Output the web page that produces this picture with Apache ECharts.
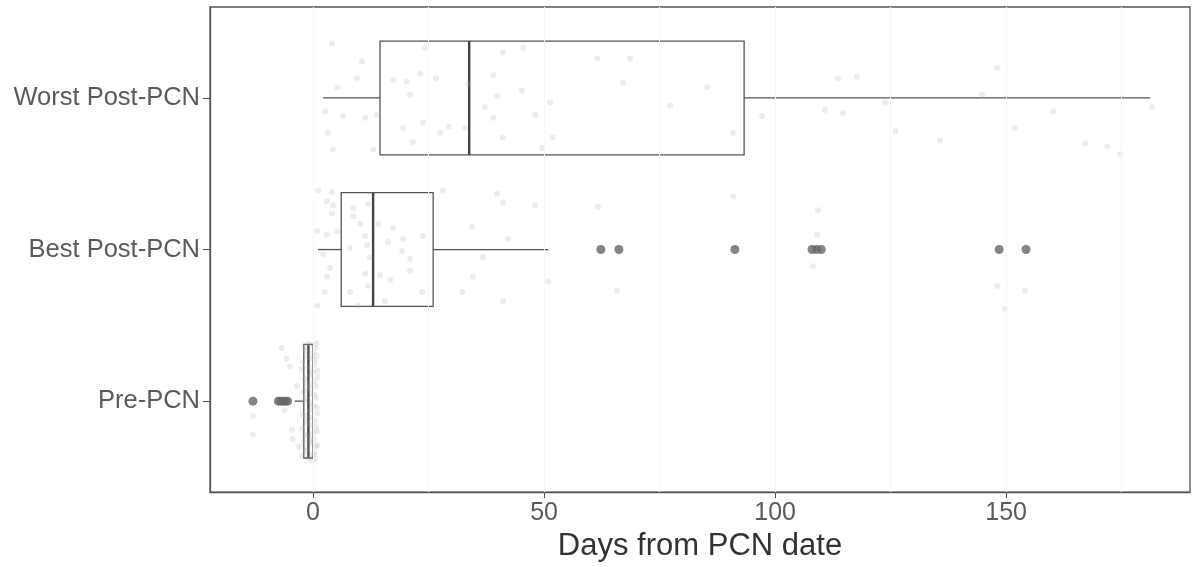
<!DOCTYPE html>
<html>
<head>
<meta charset="utf-8">
<script src="https://cdn.jsdelivr.net/npm/echarts@6/dist/echarts.min.js"></script>
<style>
  html, body { margin: 0; padding: 0; background: #fff; }
  #main { width: 1194px; height: 567px; }
</style>
</head>
<body>
<div id="main"></div>
<script>
// categories bottom -> top
const categories = ['Pre-PCN', 'Best Post-PCN', 'Worst Post-PCN'];
// [min, Q1, median, Q3, max] in days
const boxStats = [
  [-4, -2, -1, 0, 0],
  [1.1, 6.1, 13.0, 26.0, 50.9],
  [2.2, 14.5, 33.8, 93.3, 181.2]
];
const preOutliers = [-13, -7.5, -7, -6.5, -6, -5.5];
const bestOutliers = [62.3, 66.2, 91.3, 108, 109, 110, 148.5, 154.3];
const xTicks = [0, 50, 100, 150];
const xGrid = [0, 25, 50, 75, 100, 125, 150, 175];

// jittered raw points: [days, vertical offset from category]
const preJitter = [
  [-0.5, 0.37], [0.5, 0.35], [-1.5, 0.33], [0.8, 0.3], [-0.2, 0.28], [-2.2, 0.26], [0.3, 0.24],
  [-1, 0.22], [0.9, 0.2], [-0.6, 0.17], [-1.8, 0.15], [0.2, 0.13], [0.7, 0.1], [-1.2, 0.08],
  [-0.3, 0.05], [0.6, 0.02], [-2.0, 0.0], [0.1, -0.03], [-0.8, -0.06], [0.9, -0.08], [-1.5, -0.1],
  [0.4, -0.13], [-0.4, -0.16], [-2.3, -0.18], [0.8, -0.2], [-1.0, -0.23], [0.2, -0.25],
  [-0.6, -0.28], [0.6, -0.3], [-1.6, -0.33], [0.0, -0.35], [-0.9, -0.37], [0.5, -0.38],
  [-1.9, 0.36], [0.1, 0.32], [-1.1, 0.29], [0.4, 0.27], [-2.4, 0.21], [-0.1, 0.19], [1.0, 0.16],
  [-1.3, 0.12], [-0.7, 0.1], [-2.1, 0.06], [0.3, 0.04], [-1.6, 0.02], [-0.4, -0.01], [0.8, -0.04],
  [-2.2, -0.09], [-0.2, -0.11], [-1.2, -0.14], [0.6, -0.17], [-1.8, -0.22], [0.0, -0.21],
  [-0.5, -0.26], [-2.0, -0.27], [0.9, -0.29], [-1.3, -0.31], [0.3, -0.34], [-2.3, -0.36],
  [-0.3, -0.39], [-1.0, 0.38], [0.7, 0.38],
  [-6.8, 0.35], [-5.7, 0.28], [-5, 0.23], [-6.2, -0.06], [-4.6, -0.19], [-4.4, -0.25],
  [-13, -0.1], [-13, -0.22], [-3.5, 0.1], [-3, -0.3]
];
const bestJitter = [
  [1.1, 0.39], [4.1, 0.38], [3.0, 0.32], [4.3, 0.29], [4.1, 0.24], [0.9, 0.12], [3.0, 0.10],
  [5.2, 0.12], [2.2, -0.03], [3.7, -0.12], [3.0, -0.18], [2.6, -0.28], [0.9, -0.37],
  [8.7, 0.27], [8.7, 0.22], [10.2, 0.17], [11.9, 0.30], [11.3, 0.09], [8.0, 0.01], [11.7, 0.03],
  [12.3, -0.05], [11.3, -0.16], [11.9, -0.24], [8.0, -0.28], [9.7, -0.37], [14.1, 0.17],
  [17.3, 0.14], [16.2, 0.05], [19.5, 0.07], [23.8, 0.09], [19.3, -0.01], [21.0, -0.06],
  [21.0, -0.14], [14.5, -0.17], [16.7, -0.20], [23.6, -0.28], [15.6, -0.34], [28.1, 0.39],
  [39.8, 0.37], [41.1, 0.31], [48.1, 0.29], [34.4, 0.15], [42.2, 0.07], [36.8, -0.05],
  [34.6, -0.18], [32.3, -0.28], [41.1, -0.34], [50.9, -0.21], [61.7, 0.28], [65.8, -0.27],
  [90.9, 0.35], [109.3, 0.26], [109.1, 0.10], [108.2, -0.11], [148.1, -0.24], [154.1, -0.27],
  [149.8, -0.39]
];
const worstJitter = [
  [4.1, 0.36], [10.6, 0.24], [9.5, 0.13], [5.2, 0.07], [2.6, -0.09], [6.5, -0.12], [11.3, -0.13],
  [13.9, -0.11], [3.2, -0.23], [4.3, -0.34], [13.0, -0.34], [24.2, 0.33], [17.3, 0.12],
  [20.3, 0.11], [23.2, 0.16], [26.6, 0.13], [21.0, 0.02], [23.8, -0.16], [19.5, -0.20],
  [27.5, -0.23], [29.4, -0.19], [21.6, -0.29], [32.9, -0.20], [33.5, 0.09], [41.1, 0.30],
  [45.5, 0.33], [39.0, 0.15], [45.2, 0.05], [39.8, 0.01], [37.2, -0.06], [51.3, -0.03],
  [39.0, -0.13], [48.1, -0.11], [41.1, -0.26], [51.9, -0.26], [49.6, -0.33], [61.5, 0.26],
  [68.6, 0.26], [67.1, 0.10], [77.3, -0.05], [85.3, 0.07], [90.9, -0.23], [97.2, -0.12],
  [113.6, 0.13], [117.7, 0.14], [110.8, -0.08], [114.7, -0.10], [123.8, -0.03], [126.0, -0.22],
  [135.7, -0.28], [144.8, 0.02], [148.1, 0.20], [160.2, -0.09], [151.9, -0.20], [167.1, -0.30],
  [171.9, -0.32], [174.7, -0.37], [181.6, -0.06]
];

const boxHalf = 0.375;
const lineColor = '#555555';
const fontFam = "'Liberation Sans', Arial, sans-serif";

const boxData = boxStats.map(function (s, i) { return [i].concat(s); });
const jitterData = []
  .concat(preJitter.map(function (p) { return [p[0], 0 + p[1]]; }))
  .concat(bestJitter.map(function (p) { return [p[0], 1 + p[1]]; }))
  .concat(worstJitter.map(function (p) { return [p[0], 2 + p[1]]; }));
const outlierData = []
  .concat(preOutliers.map(function (v) { return [v, 0]; }))
  .concat(bestOutliers.map(function (v) { return [v, 1]; }));

function renderBox(params, api) {
  const c = api.value(0);
  const pMin = api.coord([api.value(1), c]);
  const pQ1 = api.coord([api.value(2), c]);
  const pMed = api.coord([api.value(3), c]);
  const pQ3 = api.coord([api.value(4), c]);
  const pMax = api.coord([api.value(5), c]);
  const h = api.size([0, boxHalf])[1];
  const y = pMed[1];
  const st = { stroke: lineColor, lineWidth: 1.3, fill: null };
  return {
    type: 'group',
    children: [
      { type: 'line', shape: { x1: pMin[0], y1: y, x2: pQ1[0], y2: y }, style: st },
      { type: 'line', shape: { x1: pQ3[0], y1: y, x2: pMax[0], y2: y }, style: st },
      { type: 'rect', shape: { x: pQ1[0], y: y - h, width: pQ3[0] - pQ1[0], height: 2 * h }, style: st },
      { type: 'line', shape: { x1: pMed[0], y1: y - h, x2: pMed[0], y2: y + h }, style: { stroke: '#444', lineWidth: 2.4 } }
    ]
  };
}

const chart = echarts.init(document.getElementById('main'));
chart.setOption({
  animation: false,
  grid: {
    left: 210, right: 4, top: 7, bottom: 74,
    show: true, borderColor: lineColor, borderWidth: 1.3, backgroundColor: '#fff'
  },
  xAxis: {
    type: 'value',
    min: -22.3, max: 189.8,
    name: 'Days from PCN date',
    nameLocation: 'middle',
    nameGap: 36,
    nameTextStyle: { fontSize: 31, color: '#333', fontFamily: fontFam },
    axisLine: { show: true, onZero: false, lineStyle: { color: lineColor, width: 1.3 } },
    axisTick: { show: true, length: 6, customValues: xTicks, lineStyle: { color: lineColor } },
    axisLabel: { customValues: xTicks, fontSize: 25, color: '#5a5a5a', margin: 9, fontFamily: fontFam },
    splitLine: { show: false }
  },
  yAxis: {
    type: 'value',
    min: -0.6, max: 2.6,
    axisLine: { show: true, onZero: false, lineStyle: { color: lineColor, width: 1.3 } },
    axisTick: { show: true, length: 7, customValues: [0, 1, 2], lineStyle: { color: lineColor } },
    axisLabel: {
      customValues: [0, 1, 2], fontSize: 25.5, color: '#5a5a5a', margin: 10, fontFamily: fontFam,
      formatter: function (v) { return categories[Math.round(v)]; }
    },
    splitLine: { show: false }
  },
  series: [
    {
      type: 'scatter',
      data: [],
      silent: true,
      markLine: {
        silent: true,
        symbol: 'none',
        label: { show: false },
        lineStyle: { color: '#f7f7f7', width: 1, type: 'solid' },
        data: xGrid.map(function (v) { return { xAxis: v }; })
      }
    },
    {
      type: 'custom',
      renderItem: renderBox,
      data: boxData,
      encode: { x: [1, 2, 3, 4, 5], y: 0 },
      z: 3
    },
    {
      type: 'scatter',
      data: jitterData,
      symbolSize: 6,
      itemStyle: { color: 'rgba(170,170,170,0.28)' },
      z: 4
    },
    {
      type: 'scatter',
      data: outlierData,
      symbolSize: 9,
      itemStyle: { color: '#666' },
      z: 5
    }
  ]
});
</script>
</body>
</html>
